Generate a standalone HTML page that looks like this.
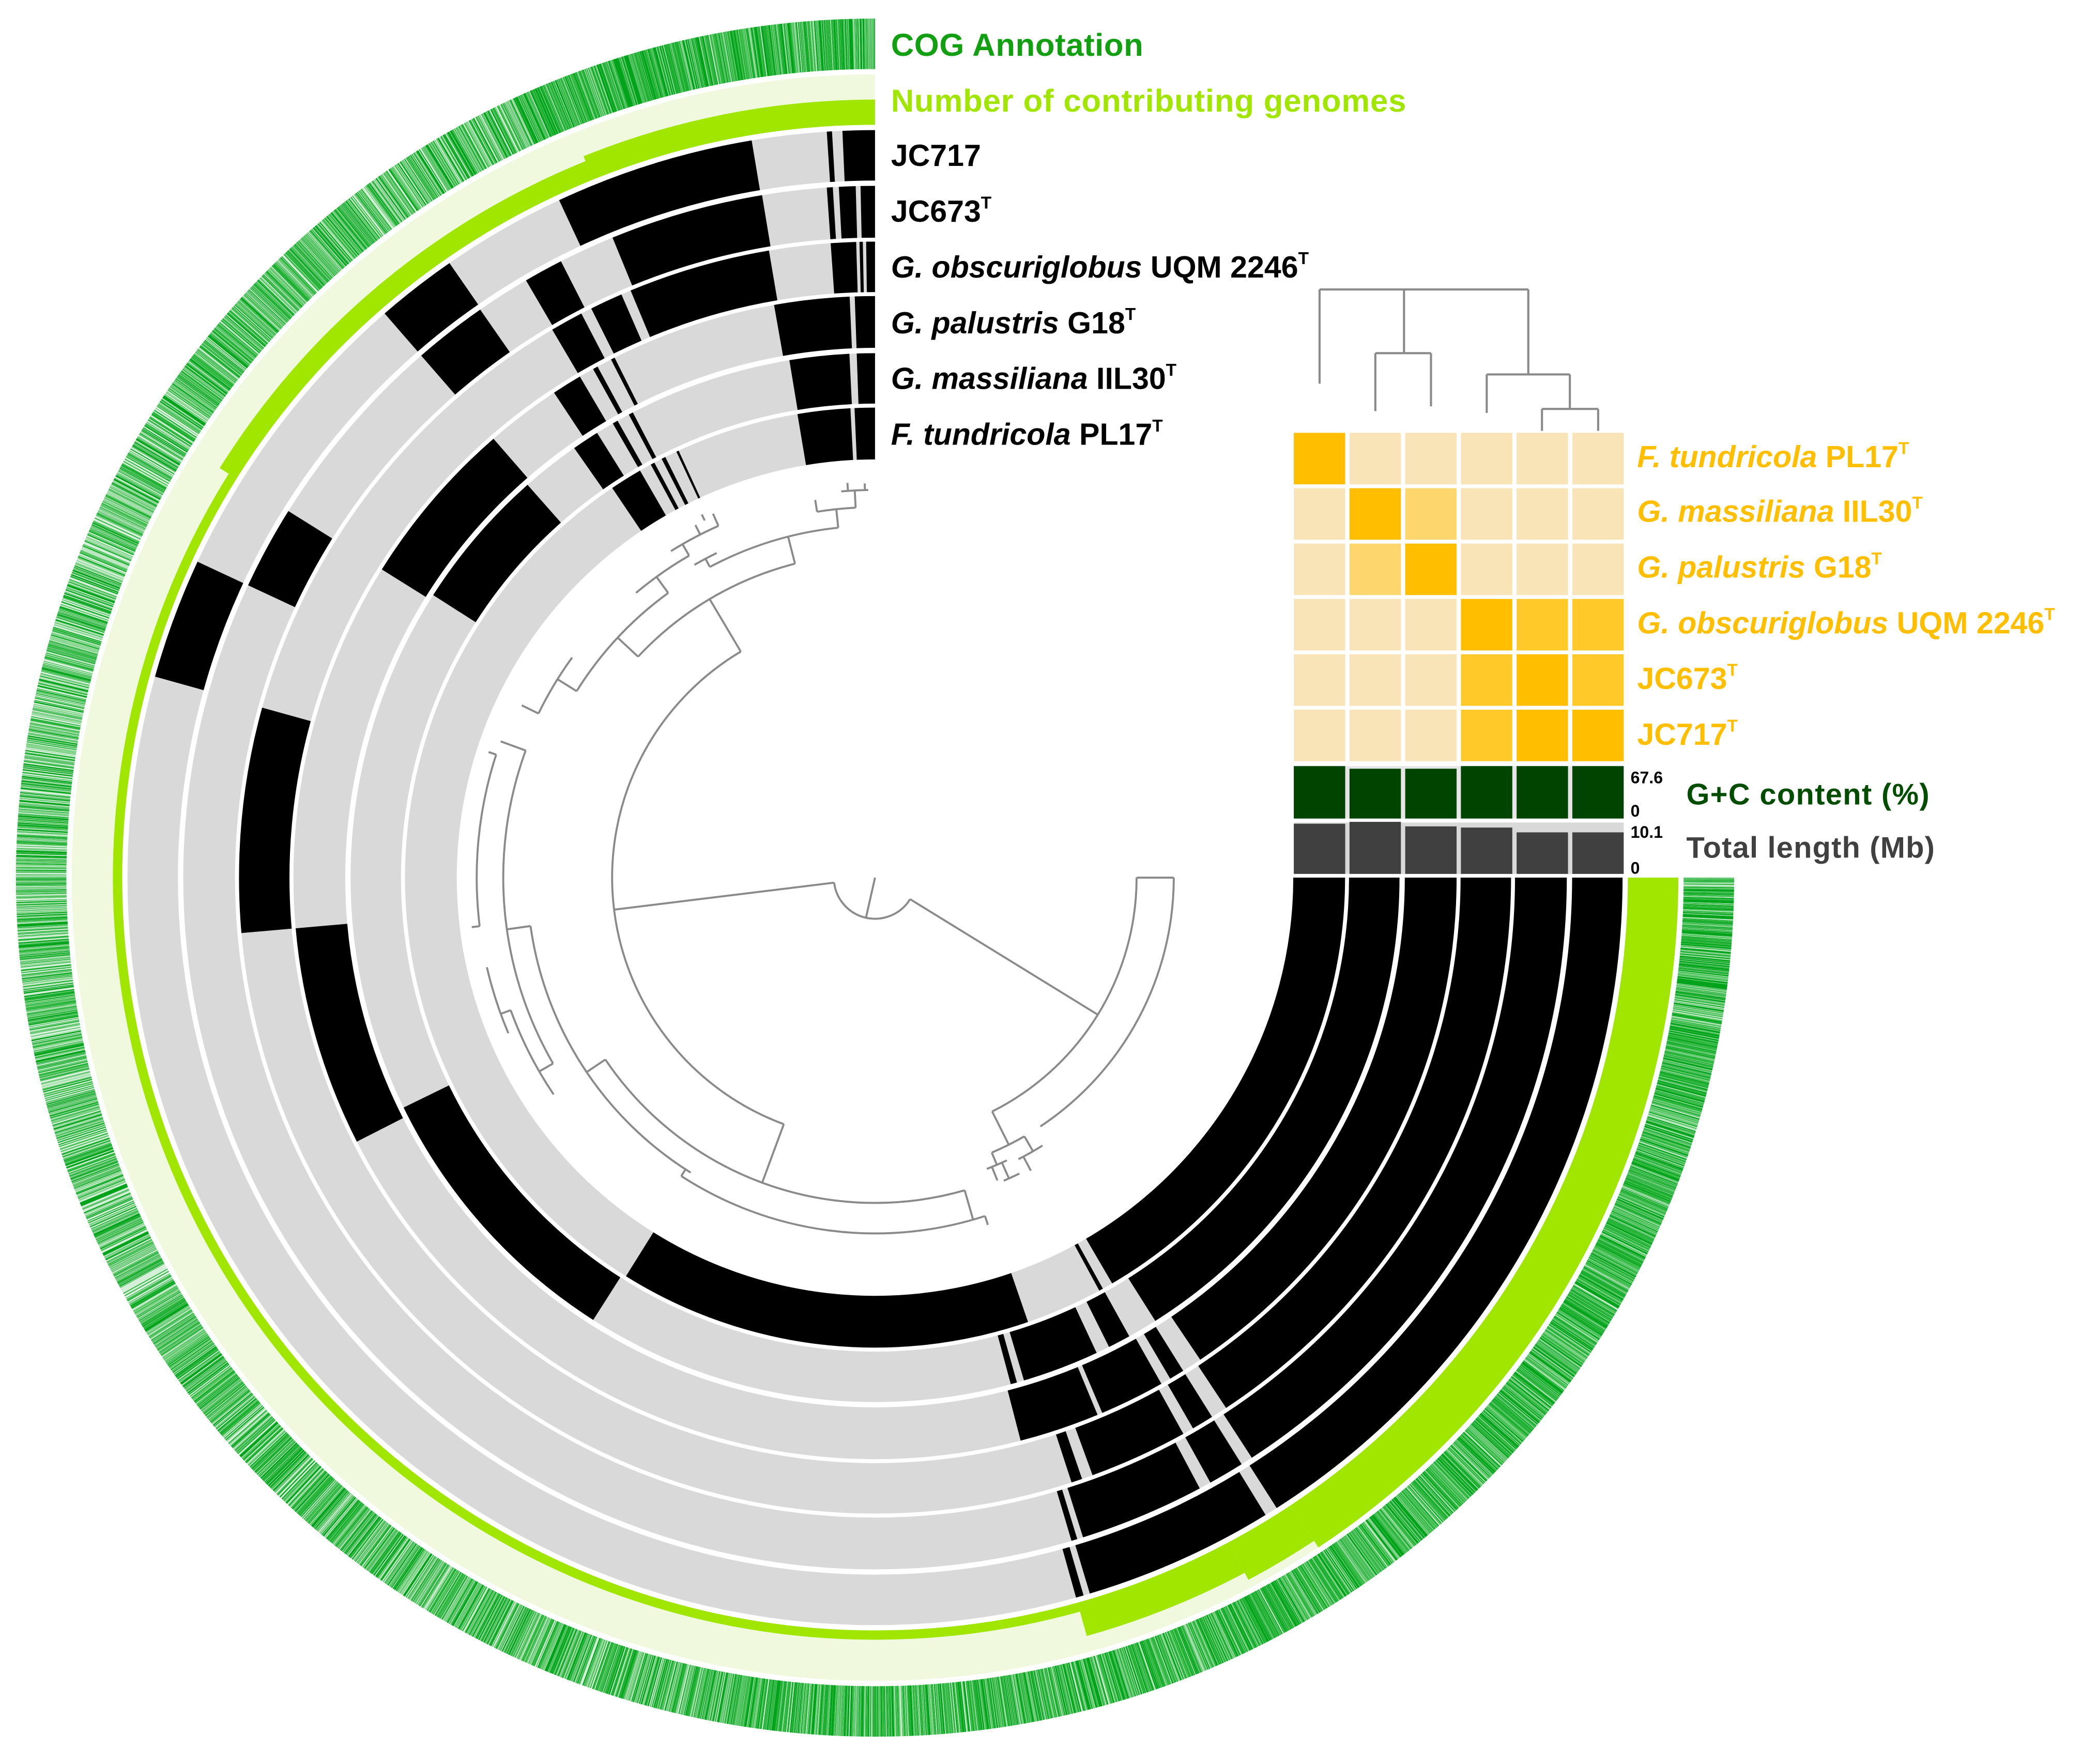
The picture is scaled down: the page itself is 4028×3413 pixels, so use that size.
<!DOCTYPE html>
<html><head><meta charset="utf-8">
<style>
html,body{margin:0;padding:0;background:#fff;}
svg{display:block;}
text{font-family:"Liberation Sans",Arial,sans-serif;font-weight:bold;}
</style></head>
<body>
<svg id="s" xmlns="http://www.w3.org/2000/svg" width="4028" height="3413" viewBox="0 0 1568 1328.6">
<rect x="0" y="0" width="1568" height="1328.6" fill="#fff"/>
<g id="cog"></g>
<g id="rings"></g>
<g id="tree" fill="none" stroke="#8a8a8a" stroke-width="1.5"></g>
<g id="panel"></g>

<!-- labels -->
<text x="671" y="42" font-size="24" fill="#12a012" textLength="190">COG Annotation</text>
<text x="671" y="84" font-size="24" fill="#a0e600" textLength="388">Number of contributing genomes</text>
<text x="671" y="125" font-size="23" fill="#000">JC717</text>
<text x="671" y="167" font-size="23" fill="#000">JC673<tspan font-size="13" dy="-10">T</tspan></text>
<text x="671" y="209" font-size="23" fill="#000"><tspan font-style="italic">G. obscuriglobus</tspan> UQM 2246<tspan font-size="13" dy="-10">T</tspan></text>
<text x="671" y="251" font-size="23" fill="#000"><tspan font-style="italic">G. palustris</tspan> G18<tspan font-size="13" dy="-10">T</tspan></text>
<text x="671" y="293" font-size="23" fill="#000"><tspan font-style="italic">G. massiliana</tspan> IIL30<tspan font-size="13" dy="-10">T</tspan></text>
<text x="671" y="335" font-size="23" fill="#000"><tspan font-style="italic">F. tundricola</tspan> PL17<tspan font-size="13" dy="-10">T</tspan></text>

<g fill="#ffbf00" font-size="23">
<text x="1233" y="352"><tspan font-style="italic">F. tundricola</tspan> PL17<tspan font-size="13" dy="-10">T</tspan></text>
<text x="1233" y="393"><tspan font-style="italic">G. massiliana</tspan> IIL30<tspan font-size="13" dy="-10">T</tspan></text>
<text x="1233" y="435"><tspan font-style="italic">G. palustris</tspan> G18<tspan font-size="13" dy="-10">T</tspan></text>
<text x="1233" y="477"><tspan font-style="italic">G. obscuriglobus</tspan> UQM 2246<tspan font-size="13" dy="-10">T</tspan></text>
<text x="1233" y="519">JC673<tspan font-size="13" dy="-10">T</tspan></text>
<text x="1233" y="561">JC717<tspan font-size="13" dy="-10">T</tspan></text>
</g>
<text x="1228" y="590" font-size="12.5" fill="#000">67.6</text>
<text x="1228" y="615" font-size="12.5" fill="#000">0</text>
<text x="1228" y="631" font-size="12.5" fill="#000">10.1</text>
<text x="1228" y="658" font-size="12.5" fill="#000">0</text>
<text x="1270" y="606" font-size="22.5" fill="#004d00" textLength="183">G+C content (%)</text>
<text x="1270" y="646" font-size="22.5" fill="#404040" textLength="187">Total length (Mb)</text>
</svg>
<script>
(function(){
var NS="http://www.w3.org/2000/svg";
var cx=659, cy=661;
function P(r,a){var t=a*Math.PI/180;return [(cx+r*Math.cos(t)).toFixed(2),(cy+r*Math.sin(t)).toFixed(2)];}
function sector(r0,r1,a0,a1){
  var L=(a1-a0)>180?1:0;
  var p1=P(r1,a0),p2=P(r1,a1),p3=P(r0,a1),p4=P(r0,a0);
  return "M"+p1+"A"+r1+","+r1+" 0 "+L+" 1 "+p2+"L"+p3+"A"+r0+","+r0+" 0 "+L+" 0 "+p4+"Z";
}
function add(g,tag,attrs){var e=document.createElementNS(NS,tag);for(var k in attrs)e.setAttribute(k,attrs[k]);g.appendChild(e);return e;}
var rings=document.getElementById("rings");
var cog=document.getElementById("cog");
add(cog,"path",{d:sector(609,647,0,270),fill:"#d6efd8"});
var seed=12345;function rnd(){seed=(seed*16807)%2147483647;return seed/2147483647;}
function dens(a){
  if(a<100)return 0.9; if(a<150)return 0.78; if(a<215)return 0.62; if(a<245)return 0.75; return 0.92;}
var d1="",d2="",d3="";var N=9000;
for(var i=0;i<N;i++){var a=i*270/N+0.015;
  if(rnd()<dens(a)){var p=P(609,a),q=P(647,a);var s="M"+p+"L"+q;var c=rnd();
    if(c<0.5)d1+=s;else if(c<0.85)d2+=s;else d3+=s;}}
add(cog,"path",{d:d1,stroke:"#00a31a",'stroke-width':"0.35",fill:"none"});
add(cog,"path",{d:d2,stroke:"#2bb83a",'stroke-width':"0.3",fill:"none"});
add(cog,"path",{d:d3,stroke:"#7fd48a",'stroke-width':"0.3",fill:"none"});
add(rings,"path",{d:sector(567,605,0,270),fill:"#f0f9de"});
var bars=[[0,56.5,38],[56.5,62,32],[62,74.4,26],[74.4,212,7],[212,248,15],[248,270,19]];
bars.forEach(function(b){add(rings,"path",{d:sector(567,567+b[2],b[0],b[1]),fill:"#a0e600"});});
var G=[
 {r:[525,563],b:[[0,57.5],[58.5,73.3],[73.8,74.4],[195.6,205],[229,235.3],[245,260.5],[266.3,266.7],[267.5,270]]},
 {r:[482,521],b:[[0,57],[58,61],[62,72.5],[73,73.5],[205,212],[229,235.2],[239.7,243],[247.7,260.6],[266,266.5],[267,268.4],[268.8,270]]},
 {r:[441,479],b:[[0,56.5],[58,60],[61,70],[71,72],[175,195.5],[239.5,242.5],[243.5,246.5],[247.4,260.4],[266,268.3],[268.6,268.9],[269.2,270]]},
 {r:[399,438],b:[[0,56],[58,59.5],[60.5,67],[67.5,75.5],[153,175],[212,229],[236.5,239.5],[241,241.5],[243,243.4],[260,267.5],[268,270]]},
 {r:[357,395],b:[[0,57.7],[61,63.5],[65,73.5],[74.3,75],[122.5,154],[212.6,228.5],[235,238],[240,240.6],[242,242.5],[260.6,267.2],[268,270]]},
 {r:[315,354],b:[[0,59.7],[61,61.5],[71,122],[236,240],[241.5,242],[243,243.5],[245,245.3],[260.5,267],[267.5,270]]}
];
G.forEach(function(g){
  add(rings,"path",{d:sector(g.r[0],g.r[1],0,270),fill:"#d9d9d9"});
  g.b.forEach(function(b){add(rings,"path",{d:sector(g.r[0],g.r[1],b[0],b[1]),fill:"#000"});});
});
var tree=document.getElementById("tree");
function arc(r,a0,a1){var L=(a1-a0)>180?1:0;var p=P(r,a0),q=P(r,a1);add(tree,"path",{d:"M"+p+"A"+r+","+r+" 0 "+L+" 1 "+q});}
function rad(a,r0,r1){add(tree,"path",{d:"M"+P(r0,a)+"L"+P(r1,a)});}
arc(31,31.6,173);rad(102.7,0,31);
rad(173,31,198);arc(198,110.3,239.3);
rad(31.6,31,197);arc(197,0,63.4);
rad(0,197,225);arc(225,0,56.4);
rad(63.4,197,225);arc(225,60,67);rad(60,225,238);rad(67,225,235);arc(238,58,63);arc(235,65,69);
rad(62,238,250);rad(66,235,248);rad(68,235,246);arc(248,64,67);
rad(239.3,198,244);arc(244,223,255.7);
rad(255.7,244,265);arc(265,242,264);rad(242,265,272);arc(272,240,244);
rad(264,265,279);arc(279,261,267);rad(261,279,288);rad(267,279,292);arc(292,265,269);rad(266,292,298);rad(268.5,292,297);
rad(223,244,265);arc(265,212,234);rad(234,265,280);arc(280,230,240);
rad(240,280,290);arc(290,238,246);rad(246,290,300);rad(243,290,298);rad(244.5,298,303);
rad(212,265,282);arc(282,206,216);rad(206,282,296);
rad(110.3,198,245);arc(245,74,146);rad(146,245,262);arc(262,122,172);
rad(74,245,268);arc(268,72,123);rad(72,268,275);rad(123,262,268);
rad(172,262,280);arc(280,150,200);rad(150,280,292);arc(292,146,160);
rad(200,280,300);arc(300,173,198);rad(173,300,306);rad(198,300,306);
rad(160,292,300);arc(300,157,167);
var panel=document.getElementById("panel");
var S="#ffbf00",S2="#ffc92a",M="#fdd76e",L="#f9e4b7";
var H=[[S,L,L,L,L,L],[L,S,M,L,L,L],[L,M,S,L,L,L],[L,L,L,S,S2,S2],[L,L,L,S2,S,S2],[L,L,L,S2,S,S]];
var x0=974.4,y0=326,pw=41.95,ph=41.7,cw=38.7,ch=38.8;
for(var r=0;r<6;r++)for(var c=0;c<6;c++)add(panel,"rect",{x:x0+c*pw,y:y0+r*ph,width:cw,height:ch,fill:H[r][c]});
var gcTop=[577,579,579,577,577,577];
add(panel,"rect",{x:x0,y:577,width:5*pw+cw,height:39.5,fill:"#e6e6e6"});
for(var c=0;c<6;c++)add(panel,"rect",{x:x0+c*pw,y:gcTop[c],width:cw,height:616.5-gcTop[c],fill:"#004400"});
add(panel,"rect",{x:x0,y:619.5,width:5*pw+cw,height:38.7,fill:"#d9d9d9"});
var lnTop=[620.4,619,622.4,623.3,626.9,626.9];
for(var c=0;c<6;c++)add(panel,"rect",{x:x0+c*pw,y:lnTop[c],width:cw,height:658.2-lnTop[c],fill:"#404040"});
var dg=add(panel,"g",{fill:"none",stroke:"#8a8a8a","stroke-width":"1.6"});
function ln(a,b,c,d){add(dg,"path",{d:"M"+a+","+b+"L"+c+","+d});}
ln(993.8,218,1151,218);ln(993.8,218,993.8,289);
ln(1057.4,218,1057.4,266);ln(1035.8,266,1077.7,266);ln(1035.8,266,1035.8,309.6);ln(1077.7,266,1077.7,306);
ln(1151,218,1151,282);ln(1119.7,282,1182.3,282);ln(1119.7,282,1119.7,311);ln(1182.3,282,1182.3,308);
ln(1161.3,308,1203.6,308);ln(1161.3,308,1161.3,324.5);ln(1203.6,308,1203.6,324.5);
})();
</script>
</body></html>
